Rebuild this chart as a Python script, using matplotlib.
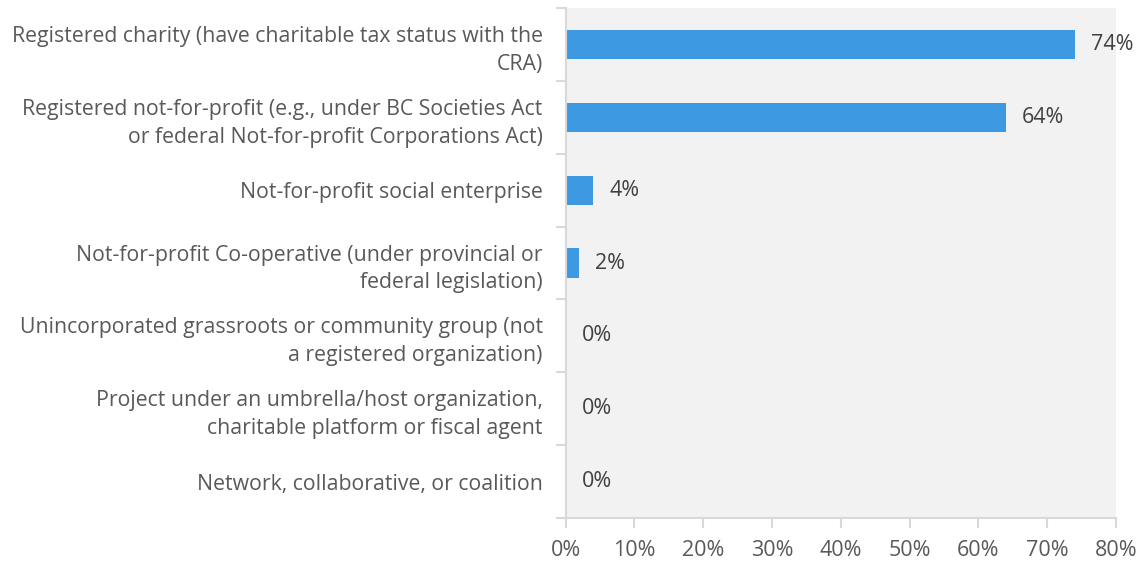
import matplotlib
matplotlib.use("Agg")
import matplotlib.pyplot as plt
from matplotlib.ticker import FixedLocator, PercentFormatter
import numpy as np

categories = [
    "Registered charity (have charitable tax status with the\nCRA)",
    "Registered not-for-profit (e.g., under BC Societies Act\nor federal Not-for-profit Corporations Act)",
    "Not-for-profit social enterprise",
    "Not-for-profit Co-operative (under provincial or\nfederal legislation)",
    "Unincorporated grassroots or community group (not\na registered organization)",
    "Project under an umbrella/host organization,\ncharitable platform or fiscal agent",
    "Network, collaborative, or coalition",
]
values = [74, 64, 4, 2, 0, 0, 0]
x_ticks = [0, 10, 20, 30, 40, 50, 60, 70, 80]

plt.rcParams["font.family"] = ["Open Sans", "DejaVu Sans"]

BAR = "#3d9ae2"
GRID = "#d9d9d9"
LABEL = "#595959"

fig = plt.figure(figsize=(11.45, 5.61), dpi=100)
ax = fig.add_axes([0.494, 0.0766, 0.4807, 0.9091])
ax.set_facecolor("#f2f2f2")

y = np.arange(len(categories))
ax.barh(y, values, height=0.4, color=BAR, zorder=2)

for yi, v in zip(y, values):
    ax.annotate(f"{v}%", (v, yi), xytext=(11.5, 0), textcoords="offset points",
                va="center", ha="left", fontsize=15.5, color="#404040")

ax.set_xlim(0, 80)
ax.set_ylim(len(categories) - 0.5, -0.5)
ax.xaxis.set_major_locator(FixedLocator(x_ticks))
ax.xaxis.set_major_formatter(PercentFormatter(decimals=0))

ax.set_yticks(y)
ax.set_yticklabels(categories, fontsize=15.3, color=LABEL, linespacing=1.42)
ax.yaxis.set_minor_locator(FixedLocator(np.arange(-0.5, len(categories), 1.0)))
ax.tick_params(axis="y", which="major", length=0, pad=16.5)
ax.tick_params(axis="y", which="minor", length=7, width=1.5, color=GRID)
ax.tick_params(axis="x", which="major", length=7, width=1.5, color=GRID,
               labelsize=15.5, labelcolor=LABEL, pad=8.5)

for side in ("top", "right"):
    ax.spines[side].set_visible(False)
for side in ("left", "bottom"):
    ax.spines[side].set_color(GRID)
    ax.spines[side].set_linewidth(1.5)

fig.savefig("out.png", dpi=100)
